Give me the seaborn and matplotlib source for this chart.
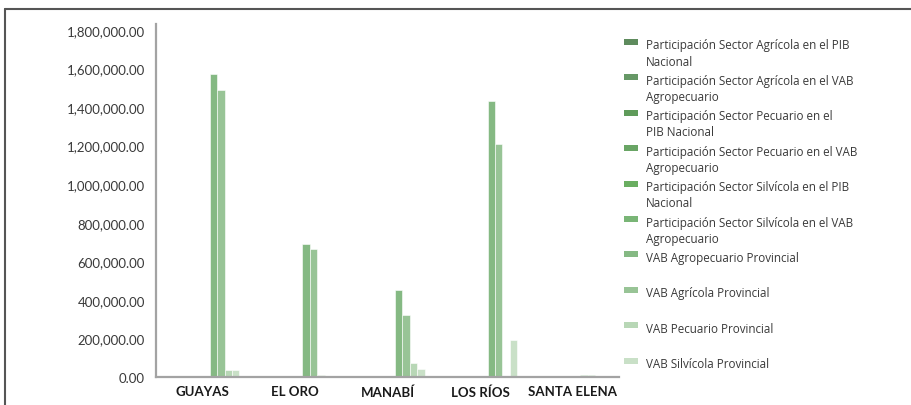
import matplotlib
matplotlib.use("Agg")
import matplotlib.pyplot as plt
from matplotlib.lines import Line2D
from matplotlib.patches import Rectangle
from matplotlib.ticker import FuncFormatter
import seaborn as sns
import pandas as pd

# provinces on the x axis
provinces = ["GUAYAS", "EL ORO", "MANABÍ", "LOS RÍOS", "SANTA ELENA"]

# series (hue order) and values per province
series = [
    "Participación Sector Agrícola en el PIB Nacional",
    "Participación Sector Agrícola en el VAB Agropecuario",
    "Participación Sector Pecuario en el PIB Nacional",
    "Participación Sector Pecuario en el VAB Agropecuario",
    "Participación Sector Silvícola en el PIB Nacional",
    "Participación Sector Silvícola en el VAB Agropecuario",
    "VAB Agropecuario Provincial",
    "VAB Agrícola Provincial",
    "VAB Pecuario Provincial",
    "VAB Silvícola Provincial",
]
# legend text wrapped like the original
legend_labels = [
    "Participación Sector Agrícola en el PIB\nNacional",
    "Participación Sector Agrícola en el VAB\nAgropecuario",
    "Participación Sector Pecuario en el\nPIB Nacional",
    "Participación Sector Pecuario en el VAB\nAgropecuario",
    "Participación Sector Silvícola en el PIB\nNacional",
    "Participación Sector Silvícola en el VAB\nAgropecuario",
    "VAB Agropecuario Provincial",
    "VAB Agrícola Provincial",
    "VAB Pecuario Provincial",
    "VAB Silvícola Provincial",
]

part_agr_pib = [0, 0, 0, 0, 0]
part_agr_vab = [0, 0, 0, 0, 0]
part_pec_pib = [0, 0, 0, 0, 0]
part_pec_vab = [0, 0, 0, 0, 0]
part_silv_pib = [0, 0, 0, 0, 0]
part_silv_vab = [0, 0, 0, 0, 0]
vab_agropecuario = [1570000, 689000, 452000, 1430000, 12000]
vab_agricola = [1489000, 663000, 320000, 1207000, 10000]
vab_pecuario = [35000, 10000, 71000, 0, 0]
vab_silvicola = [35000, 0, 43000, 193000, 0]

colors = ["#5e8b5d", "#669866", "#5f9b5a", "#69a565", "#6aae61",
          "#79b576", "#85b983", "#98c496", "#b8d7b6", "#c9e0c7"]

all_values = [part_agr_pib, part_agr_vab, part_pec_pib, part_pec_vab,
              part_silv_pib, part_silv_vab, vab_agropecuario, vab_agricola,
              vab_pecuario, vab_silvicola]

rows = []
for s, vals in zip(series, all_values):
    for p, v in zip(provinces, vals):
        rows.append({"Provincia": p, "Serie": s, "Valor": v})
df = pd.DataFrame(rows)

sns.set_theme(style="white")
plt.rcParams['font.family'] = ['Lato', 'DejaVu Sans']

fig = plt.figure(figsize=(9.12, 4.06), dpi=100)
ax = fig.add_axes([156 / 912, 1 - 378 / 406, (619 - 156) / 912, (378 - 25) / 406])

sns.barplot(data=df, x="Provincia", y="Valor", hue="Serie", order=provinces,
            hue_order=series, palette=colors, saturation=1, legend=False,
            edgecolor="white", linewidth=0.4, ax=ax)

ax.set_ylim(0, 1830000)
ax.set_yticks(range(0, 1800001, 200000))
ax.yaxis.set_major_formatter(FuncFormatter(lambda v, pos: f"{v:,.2f}"))
ax.set_xlabel("")
ax.set_ylabel("")

for side in ["top", "right"]:
    ax.spines[side].set_visible(False)
for side in ["left", "bottom"]:
    ax.spines[side].set_color("#a3a3a3")
    ax.spines[side].set_linewidth(1.6)

ax.tick_params(axis="y", length=0, pad=8, labelsize=9.5, labelcolor="#3a3a3a")
ax.tick_params(axis="x", length=0, pad=6, labelsize=9.5, labelcolor="#1a1a1a")
for lbl in ax.get_xticklabels():
    lbl.set_fontweight("bold")

# legend drawn by hand so the swatch sits on the first text line
for i, (lab, col) in enumerate(zip(legend_labels, colors)):
    yc = 45 + i * 35.4
    fig.add_artist(Rectangle((624 / 912, 1 - (yc + 1) / 406), 14 / 912, 6 / 406,
                             transform=fig.transFigure, facecolor=col, edgecolor="none"))
    fig.text(646 / 912, 1 - (yc - 5.5) / 406, lab, fontsize=8.4, color="#3a3a3a",
             va="top", ha="left", linespacing=1.3, family=['Open Sans', 'DejaVu Sans'])

# frame lines around the image (top and left only)
fig.add_artist(Line2D([5 / 912, 1], [1 - 9.5 / 406, 1 - 9.5 / 406],
                      transform=fig.transFigure, color="#555555", lw=1.5))
fig.add_artist(Line2D([5.5 / 912, 5.5 / 912], [0, 1 - 9.5 / 406],
                      transform=fig.transFigure, color="#555555", lw=1.5))

fig.savefig("out.png", dpi=100)
